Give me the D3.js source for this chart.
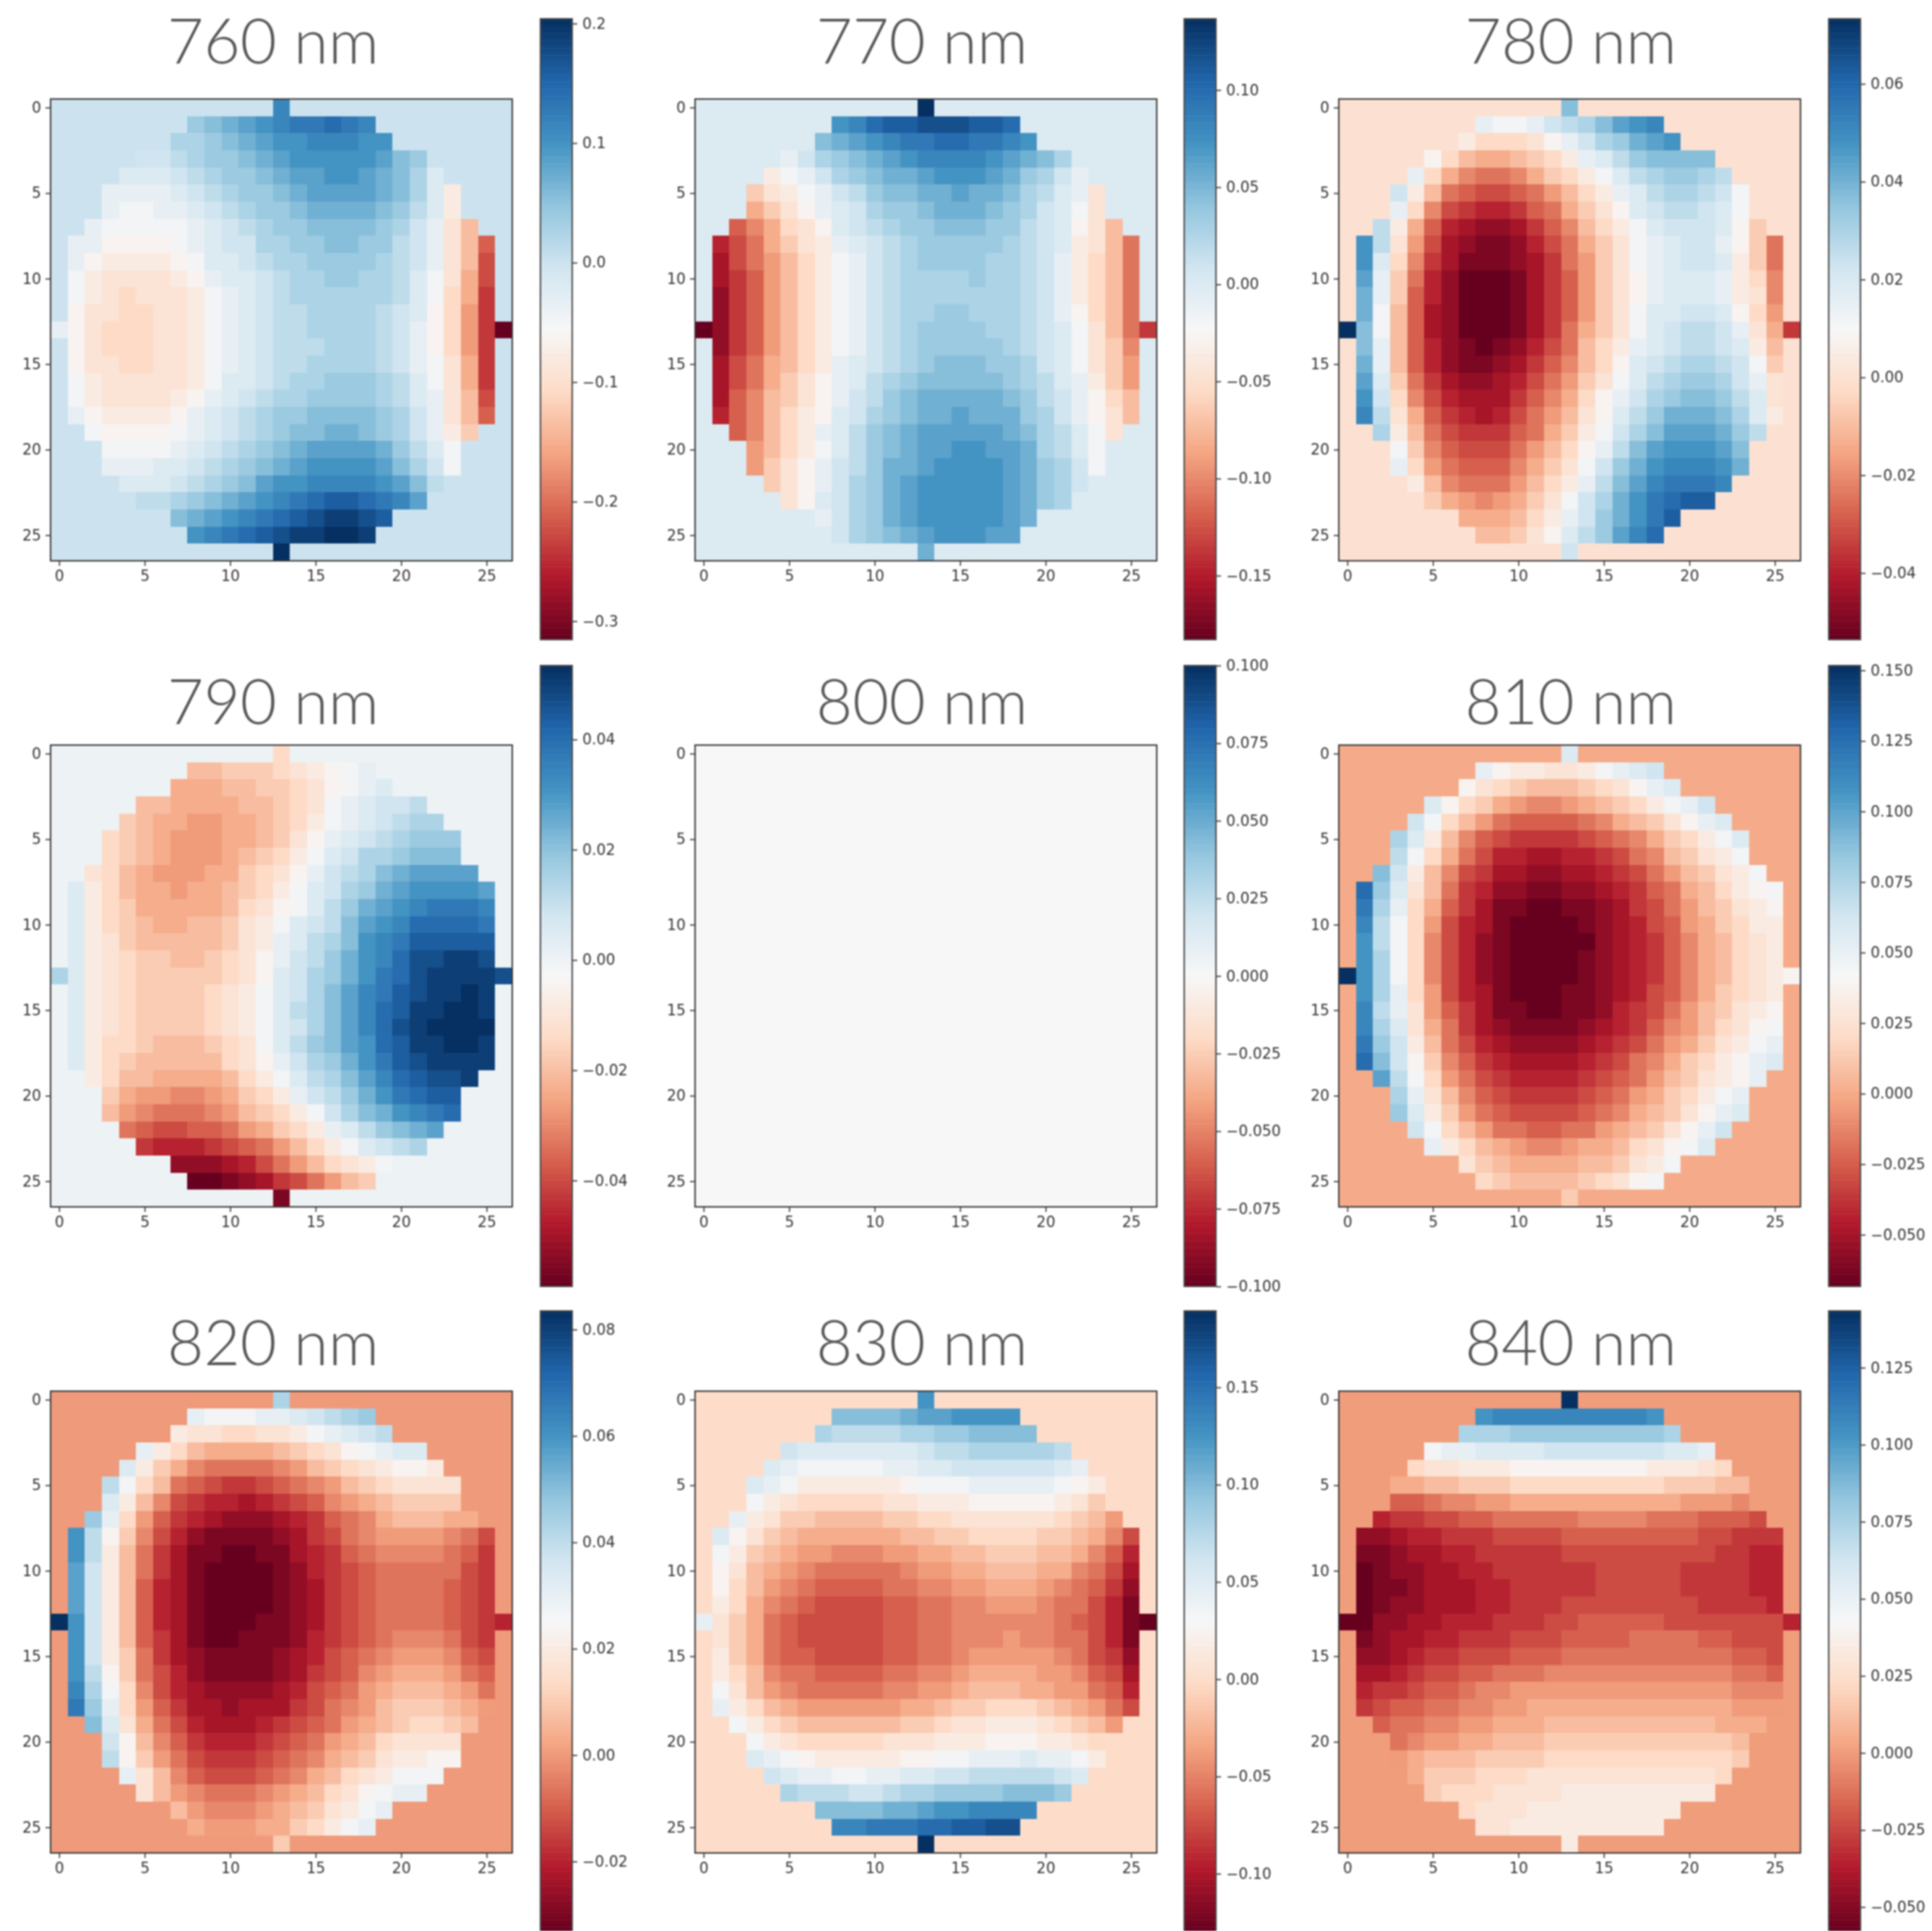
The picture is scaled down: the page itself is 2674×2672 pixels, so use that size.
<!DOCTYPE html>
<html>
<head>
<meta charset="utf-8">
<script src="https://cdn.jsdelivr.net/npm/d3@7"></script>
<style>
    html, body { margin: 0; background: #fff; }
    svg { display: block; filter: blur(0.9px); }
</style>
</head>
<body>
<script>
// wavelength of each panel, row by row
var wavelengths = [760, 770, 780, 790, 800, 810, 820, 830, 840];

// colour limits of each panel
var vmins = [-0.3154, -0.1829, -0.0536, -0.0592, -0.1, -0.0683, -0.0332, -0.1298, -0.058];
var vmaxs = [0.204, 0.1367, 0.0733, 0.0534, 0.1, 0.1517, 0.0835, 0.1893, 0.1434];

// colourbar ticks of each panel
var barTicks = [
    [-0.3, -0.2, -0.1, 0, 0.1, 0.2],
    [-0.15, -0.1, -0.05, 0, 0.05, 0.1],
    [-0.04, -0.02, 0, 0.02, 0.04, 0.06],
    [-0.04, -0.02, 0, 0.02, 0.04],
    [-0.1, -0.075, -0.05, -0.025, 0, 0.025, 0.05, 0.075, 0.1],
    [-0.05, -0.025, 0, 0.025, 0.05, 0.075, 0.1, 0.125, 0.15],
    [-0.02, 0, 0.02, 0.04, 0.06, 0.08],
    [-0.1, -0.05, 0, 0.05, 0.1, 0.15],
    [-0.05, -0.025, 0, 0.025, 0.05, 0.075, 0.1, 0.125]
];
var barFormats = [".1f", ".2f", ".2f", ".2f", ".3f", ".3f", ".2f", ".2f", ".3f"];
var axisTicks = [0, 5, 10, 15, 20, 25];

// first column of the disc in each of the 27 rows, everything outside the disc is 0
var discStart = [13, 8, 7, 5, 4, 3, 3, 2, 1, 1, 1, 1, 1, 0, 1, 1, 1, 1, 1, 2, 3, 3, 4, 5, 7, 8, 13];

// cell values, one character per disc cell:
// 0-9a-z is the position 0..35 between the panel's vmin and vmax
var levels760 = ["t", "opqrstuuvut", "nnopqrsstttss", "llmnoopqrsssssrpo", "kkklmnoopqrrssrqpnk",
    "jjjjklmnoopqrrrrqpnkg", "jiijjklmnoopqqqqpomkg", "jiiiiijklmnoopppponljfc",
    "jjhhhhijkllnnooppoomljfc7", "jhgggghikklmnnoooonmljfc6", "igffffghjkklmnnoonnmkifb6",
    "igfefffgijklmnnnnnnmkieb5", "hffeeffgijklmmnnnnmlkhea5", "jhfeeeffgijklmmnnnnmljhea50",
    "hfeeeffgijklmmmnnnmljhea5", "hffeeffgijklmmnnnnmljifb5", "igfffffgikklmnnooonmkifb5",
    "igffffghjklmnnoooonmkjfc6", "jhgggghjklmnoopppponljfc7", "ihhhhijklmnoppqqponljgd",
    "iiiijklmnopqrrrrqomki", "jjjkklmnopqrssssrpnli", "kkklmnoprssttttsrpm",
    "mmnopqrstuvwwvutr", "pqrstuvwxyyxw", "stuvwxyyzzy", "z"];
var levels770 = ["z", "stvwwxxxwwv", "pqrstuuvvuuts", "jlnopqrsttttsrqpn", "gijlnopqqrsssrqonlj",
    "dfgijlmoppqqrqqpnmkjf", "bdfhjklnoopqqqponlkif", "79befhklmnoopppoomlkhfc",
    "468bdfgjklmnooooonmlkgfc8", "368acegijlmnoooonnmljgec8", "357acegijlmnnnnonnmljgec8",
    "257acegijlmnnnnnnnmljgec8", "257acegijlmnnoonnnmljhec8", "0257acegijlmnoooonnmlkifc85",
    "257acegijlmnooooonmlkifd9", "368bcegjklmnopppoonlkifda", "368bdfhjkmnopppppo" + "nmkjgda",
    "379cdfhjlmopqqqqqpomljhec", "479ceghklnopqqrqqqonljhfc", "79cegjkmopqrrrrrqpnmkif",
    "acegikmopqrrssrrqnmki", "adfhjlmoqqrssssrqonli", "dfhjlnoqrsssssrqonl",
    "fhklnoqrsssssrqon", "jlnoqrsssssrq", "lnopqrsssrr", "q"];
var levels780 = ["p", "jiijlmnprst", "geeefhjlnoqrs", "hecbbcdegjkmopppp", "jeb9889bdegikmnoonm",
    "lgc876678acegjkmnnmli", "je96544578bdfhklmmlki", "mgb743223579cegiklllkhd",
    "smfa632112468bdfijklljhd8", "ske9531112358adfijkllkgd8", "rjd8420001357adfhjkkkjge9",
    "qjd7420001357adfhjkkkjgf9", "qic7320001357adfikkllkhea", "zpic7320001358bdfiklmmljfb5",
    "pjc7421012468cegjklmmlkgc", "qjc7421123579cehklmnnmlid", "rkd853223468adfikmnoonljf",
    "sle964333579behjlnoppomkf", "tmfb7543468acfhkmoqqqpnkg", "ngc8655578bdgilnprrrqom",
    "id976668acehjmprsssrp", "jea87779bdfiloqstttsq", "gc9888acegjmprtuuut",
    "dba9abdfilnqsuvww", "bbbcegjloqsuw", "ccdfhkmortv", "l"];
var levels790 = ["e", "ccdddefghij", "bbbccddefhijk", "ccbbbbccdefijkllm", "dcbbaabbcdegijklmnn",
    "edcbaaabbcdfhjklmnooo", "edcbaaabcdegiklnnoppp", "fecbaaabbdefhjlmnpqrrrr",
    "kgecbbabbcdegiklnoqrssssr", "kgedbbbbbcefhikmoqrstuuut", "kgedcbbccdfgiklmprstvvvvu",
    "kgfdcccccdfgjkmnpstuwwwww", "kgfeddccdefhjlmoqstvxxyyx", "nkgfedddddefhklnoqsuvxyyyyx",
    "kgfeddddefgiklnprtuwxyyzy", "kgfeddddefgikmnprtvwyyzzy", "kgfeddddefgiklnprtvxyzzzz",
    "kgeedcccdefikmoprsvwyyzzy", "kgedcccccefhjlnoqsuwxyyyy", "geccbbbbcegikmnprtvwxxy",
    "dbaa99abdegjlmoqsuvww", "ca98889acdegilnpqstuv", "8766778abdegjkmopqr",
    "54445678acegiklmn", "2223468acefgi", "00123568acd", "1"];
var levels800 = [];
var levels810 = ["k", "jhggffgijkl", "hfedcccdefhjk", "khedba99abcdegijl", "lieca8777789bcdfhjk",
    "nkgc97655556789bdegik", "mieb864433445689cdfgi", "plgc9653322334568acdfgi",
    "vokfc85422112234578bceghi", "unjeb75311001123568acdfgh", "tmiea64310000123467abdegg",
    "smie9642100000234579bcefg", "snie9642100001234579bcefg", "zsnie9642100001234579bcefgh",
    "snjea643100011234679bdefg", "tmjfa75311001124568acdfgh", "tnkfb85321111234579acefhi",
    "uolgc8643222234568abdfgij", "vplhd9754333345689bdeghjk", "rmiea86544445678acdfghj",
    "njfc9765555678abdegij", "okgda876666789bcdfhjk", "lieca887788abcdfhjl",
    "jgecba99abbcefhik", "fdcbbbbccdfgi", "edccccdefhi", "d"];
var levels820 = ["n", "jiiijjklmno", "gffeeffgijklm", "jgecbbbbcdefhijkk", "kgdb988889acdefghhg",
    "miec876556789acdeffff", "kgc96544345679abcdddd", "ojea7543222345789bcccbb",
    "smhd96421111235689aaaa986", "smgc853110011345789999875", "rlgc853100001245678888865",
    "rlgc743100001235678888765", "rlgc743100001235678888765", "zslgc7431000112356788887654",
    "slgc753100111245678999865", "slgd853211112346789aaa976", "smhd86421111235679abbba87",
    "tnie9643222234678abcccba8", "uojea753323335689acdddcba", "pkfb86433345678abcdeedc",
    "lhc9754445678abceffff", "mhda865556789bcdfgghh", "jfc97666789bcefgiii",
    "fca98889abcefhijj", "ca999abcdfgij", "baaabbdegij", "d"];
var levels830 = ["s", "ppppqrrssss", "nmmmmnnoopppp", "lkkkkkkklmmnnnnnm", "kjiiiiijjkkllllllkj",
    "kjigggggghiiijjjjjihg", "igfeeeeeffggghhhhhgfd", "jgfddccccddeeffffffedca",
    "khfdcbbbbbbccddeeeeddcb96", "igdcbaa999aabbccdddccb974", "hfcba9888889aabbcccbb9863",
    "heca9877778899aabbba98752", "geb9876666778899aaa988641", "jfdb87666667788999999876410",
    "fdb87666667788999a9988641", "gdb877666677889aaaaa98652", "gec98877778899abbbbaa9763",
    "ifca98888899aabcccbbaa874", "jgecbaaaaaabbcddeeedcba86", "igedccccccddeffgggfedca",
    "igfeeeeefffggghhhggfe", "kjihggggghhiijjjkjjig", "lkjjiijjkkllmmmmmlk",
    "nmmmllmnnoooopppo", "ppppqqrsstttt", "ttuuuvvwwxx", "z"];
var levels840 = ["z", "sttttttttts", "nnnooooooooon", "ijjkkkklllllllkkj", "effggghhhhhhhhgggfe",
    "bbccdddeeeeeeeeedddcc", "77899aabbbbbbbbbbaaa9", "45566778888899998887776",
    "2234455566667777777766555", "1123344555556666666665544", "0122334455555566666555544",
    "0112333445555566666555544", "0122333445556666666655554", "002233444555667777766666664",
    "1233445556667777888877666", "2234556667778888888888776", "3345667788899999999999887",
    "455677899aaaaaaaaaaaaa999", "56778899aabbbbbbbbbbbbaaa", "78899aabbbccccccccccbbb",
    "89aabbcccdddddddddddc", "abcccddddeeeeeeeeeeed", "bdddeeefffffffffffe",
    "deeeffffggggggggg", "efffggggggggg", "ffggggggggg", "g"];

var allLevels = [levels760, levels770, levels780, levels790, levels800, levels810, levels820, levels830, levels840];

// matplotlib RdBu stops
var rdBu = ["#67001f", "#b2182b", "#d6604d", "#f4a582", "#fddbc7", "#f7f7f7",
    "#d1e5f0", "#92c5de", "#4393c3", "#2166ac", "#053061"];

var alphabet = "0123456789abcdefghijklmnopqrstuvwxyz";

// frame positions in the page
var frameLeft = [70, 962, 1853],
    frameTop = [137, 1031, 1925],
    frameSize = 639,
    barLeft = [748, 1639, 2531],
    barTop = [26, 921, 1814],
    barHeight = 859,
    barWidth = 44,
    titleCenter = [378, 1276, 2174],
    titleBase = [88, 1002, 1889];

var svg = d3.select("body").append("svg")
    .attr("width", 2674)
    .attr("height", 2672);

function cellValue(p, r, c) {
    var rows = allLevels[p];
    if (!rows.length) return 0;
    var i = c - discStart[r];
    if (i < 0 || i >= rows[r].length) return 0;
    return vmins[p] + (vmaxs[p] - vmins[p]) * alphabet.indexOf(rows[r][i]) / 35;
}

wavelengths.forEach(function(wl, p) {
    var col = p % 3,
        row = Math.floor(p / 3);

    var color = d3.scaleLinear()
        .domain(rdBu.map(function(d, i) { return vmins[p] + (vmaxs[p] - vmins[p]) * i / 10; }))
        .range(rdBu);

    svg.append("text")
        .attr("x", titleCenter[col])
        .attr("y", titleBase[row])
        .attr("text-anchor", "middle")
        .style("font-family", "Lato")
        .style("font-weight", 300)
        .style("font-size", "87px")
        .style("fill", "#555")
        .text(wl + " nm");

    var g = svg.append("g")
        .attr("transform", "translate(" + frameLeft[col] + "," + frameTop[row] + ")");

    // heatmap cells
    var band = d3.scaleBand().domain(d3.range(27)).range([0, frameSize]);
    var cells = [];
    d3.range(27).forEach(function(r) {
        d3.range(27).forEach(function(c) {
            cells.push({ r: r, c: c, v: cellValue(p, r, c) });
        });
    });
    g.selectAll("rect.cell")
        .data(cells)
        .enter()
        .append("rect")
        .attr("class", "cell")
        .attr("x", function(d) { return band(d.c); })
        .attr("y", function(d) { return band(d.r); })
        .attr("width", band.bandwidth() + 0.5)
        .attr("height", band.bandwidth() + 0.5)
        .attr("fill", function(d) { return color(d.v); })
        .attr("shape-rendering", "crispEdges");

    // axes
    var pos = d3.scaleLinear().domain([-0.5, 26.5]).range([0, frameSize]);
    var xAxis = g.append("g")
        .attr("transform", "translate(0," + frameSize + ")")
        .call(d3.axisBottom(pos).tickValues(axisTicks).tickSize(7).tickPadding(6).tickSizeOuter(0));
    var yAxis = g.append("g")
        .call(d3.axisLeft(pos).tickValues(axisTicks).tickSize(7).tickPadding(6).tickSizeOuter(0));
    styleAxis(xAxis);
    styleAxis(yAxis);

    g.append("rect")
        .attr("width", frameSize)
        .attr("height", frameSize)
        .attr("fill", "none")
        .attr("stroke", "#3a3a3a")
        .attr("stroke-width", 2);

    // colourbar, 256 steps like the matplotlib one
    var bar = svg.append("g")
        .attr("transform", "translate(" + barLeft[col] + "," + barTop[row] + ")");
    var barScale = d3.scaleLinear().domain([vmins[p], vmaxs[p]]).range([barHeight, 0]);
    var steps = d3.range(256);
    var stepH = barHeight / 256;
    bar.selectAll("rect.step")
        .data(steps)
        .enter()
        .append("rect")
        .attr("class", "step")
        .attr("x", 0)
        .attr("y", function(i) { return (255 - i) * stepH; })
        .attr("width", barWidth)
        .attr("height", stepH + 0.5)
        .attr("fill", function(i) { return color(vmins[p] + (vmaxs[p] - vmins[p]) * i / 255); });
    var barAxis = bar.append("g")
        .attr("transform", "translate(" + barWidth + ",0)")
        .call(d3.axisRight(barScale).tickValues(barTicks[p]).tickSize(7).tickPadding(7)
            .tickSizeOuter(0).tickFormat(d3.format(barFormats[p])));
    styleAxis(barAxis);
    bar.append("rect")
        .attr("width", barWidth)
        .attr("height", barHeight)
        .attr("fill", "none")
        .attr("stroke", "#4a4a4a")
        .attr("stroke-width", 2);
});

function styleAxis(a) {
    a.select(".domain").remove();
    a.selectAll("line").attr("stroke", "#333").attr("stroke-width", 1.6);
    a.selectAll("text")
        .style("font-family", "DejaVu Sans")
        .style("font-size", "20.5px")
        .style("fill", "#333");
}
</script>
</body>
</html>
